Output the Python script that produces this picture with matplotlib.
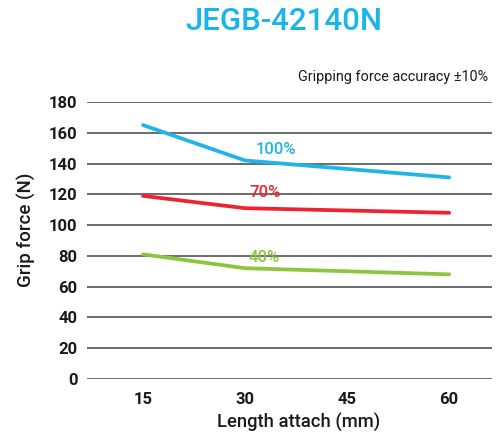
import matplotlib
matplotlib.use("Agg")
import matplotlib.pyplot as plt

plt.rcParams["font.family"] = ["Roboto", "DejaVu Sans"]

lengths = [15, 30, 45, 60]
force_100 = [165, 142, 136.5, 131]
force_70 = [119, 111, 109.5, 108]
force_40 = [81, 72, 70, 68]
series_labels = ["100%", "70%", "40%"]
y_ticks = [0, 20, 40, 60, 80, 100, 120, 140, 160, 180]

blue = "#1fb5e6"
red = "#ec2330"
green = "#8cc63f"

fig = plt.figure(figsize=(5.01, 4.33), dpi=100)
ax = fig.add_axes([87/501, 1-379/433, 405/501, 277/433])

for vals, col in [(force_100, blue), (force_70, red), (force_40, green)]:
    ax.plot(lengths, vals, color=col, lw=2.7, solid_capstyle="round", zorder=3)

for v in y_ticks:
    ax.axhline(v, color="#444444", lw=1.1, zorder=1)

ax.set_xlim(6.76, 66.3)
ax.set_ylim(0, 180)
ax.set_xticks(lengths)
ax.set_yticks(y_ticks)
for s in ax.spines.values():
    s.set_visible(False)
ax.tick_params(length=0, labelsize=12, colors="#1a1a1a")
ax.tick_params(axis="y", pad=7)
ax.tick_params(axis="x", pad=9)
for lab in ax.get_xticklabels() + ax.get_yticklabels():
    lab.set_fontweight("bold")

ax.set_xlabel("Length attach (mm)", fontsize=13.2, color="#1a1a1a", fontweight="medium")
ax.set_ylabel("Grip force (N)", fontsize=13.5, color="#1a1a1a", labelpad=9, fontweight="medium")
ax.xaxis.set_label_coords(0.523, -0.123)
ax.yaxis.label.set_y(0.538)

ax.text(34.6, 149, series_labels[0], color=blue, fontsize=12, fontweight="medium", ha="center", va="center")
ax.text(32.9, 121.5, series_labels[1], color=red, fontsize=12, fontweight="medium", ha="center", va="center")
ax.text(32.8, 79, series_labels[2], color=green, fontsize=12, fontweight="medium", ha="center", va="center")

fig.text(284/501, 1-21/433, "JEGB-42140N", color="#19b6ea", fontsize=22.5, fontweight="medium",
         ha="center", va="center")
fig.text(488/501, 1-77/433, "Gripping force accuracy \u00b110%", color="#1a1a1a", fontsize=10.4,
         ha="right", va="center")

fig.savefig("out.png", dpi=100)
